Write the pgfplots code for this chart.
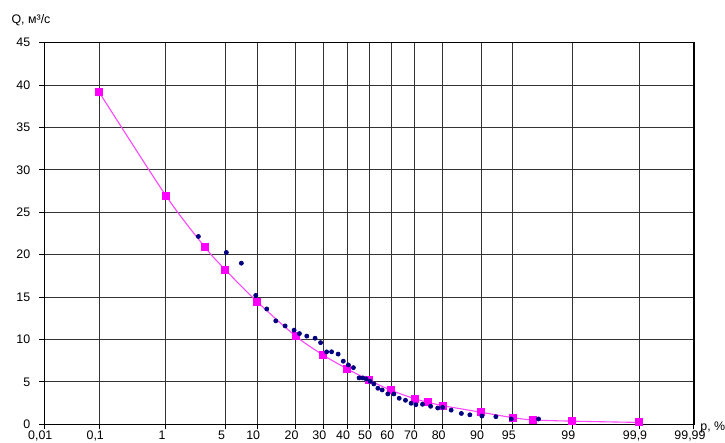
\documentclass[border=0pt]{standalone}
\usepackage{fontspec}
\setmainfont{Liberation Sans}
\usepackage{pgfplots}
\pgfplotsset{compat=1.18}
\definecolor{pinkline}{RGB}{255,70,255}
\definecolor{magsq}{RGB}{255,0,255}
\definecolor{navydot}{RGB}{0,0,128}
\begin{document}
\begin{tikzpicture}
\begin{axis}[
  at={(0,0)}, anchor=south west,
  scale only axis,
  width=324.85pt, height=190.8pt,
  xmin=-3.719, xmax=3.719,
  ymin=0, ymax=45,
  xtick={-3.719,-3.090,-2.326,-1.645,-1.2816,-0.8416,-0.5244,-0.2533,0,0.2533,0.5244,0.8416,1.2816,1.645,2.326,3.090,3.719},
  xticklabels={0{,}01,0{,}1,1,5,10,20,30,40,50,60,70,\raisebox{-1.5pt}{80},90,95,99,99{,}9,99{,}99},
  ytick={0,5,10,15,20,25,30,35,40,45},
  xmajorgrids, ymajorgrids,
  grid style={black!80, line width=0.5pt},
  axis line style={black, line width=0.6pt},
  tick align=outside, tick pos=left,
  major tick length=2.5pt,
  major tick style={black, line width=0.5pt},
  /pgf/number format/assume math mode=true,
  tick label style={font=\fontsize{6.2}{7}\selectfont},
  xticklabel style={xshift=-2pt, yshift=2.8pt},
  yticklabel style={xshift=-1pt},
]
\addplot[color=pinkline, line width=0.55pt, smooth, tension=0.5,
  mark=square*, mark size=1.75pt, mark options={fill=magsq, draw=magsq, line width=0pt}]
coordinates {
(-3.090,39.15) (-2.326,26.95) (-1.881,20.9) (-1.645,18.2) (-1.2816,14.45)
(-0.8416,10.4) (-0.5244,8.15) (-0.2533,6.55) (0,5.2) (0.2533,4.0)
(0.5244,3.0) (0.6745,2.6) (0.8416,2.2) (1.2816,1.42) (1.645,0.78)
(1.881,0.51) (2.326,0.37) (3.090,0.22)
};
\addplot[only marks, mark=*, mark size=1pt, color=navydot, mark options={fill=navydot}]
coordinates {
(-1.955,22.15) (-1.635,20.26) (-1.463,19.0) (-1.298,15.2) (-1.172,13.6)
(-1.069,12.2) (-0.962,11.6) (-0.859,11.1) (-0.798,10.7) (-0.714,10.4)
(-0.619,10.15) (-0.556,9.63) (-0.487,8.54) (-0.430,8.55) (-0.355,8.28)
(-0.296,7.44) (-0.238,7.0) (-0.180,6.68) (-0.115,5.47) (-0.072,5.47)
(-0.034,5.35) (0.011,5.07) (0.054,4.76) (0.100,4.25) (0.149,4.05)
(0.214,3.58) (0.283,3.58) (0.344,3.07) (0.416,2.83) (0.481,2.48)
(0.535,2.31) (0.611,2.36) (0.704,2.12) (0.785,1.92) (0.842,2.0)
(0.939,1.67) (1.056,1.28) (1.153,1.12) (1.291,0.98) (1.451,0.9)
(1.627,0.63) (1.939,0.63)
};
\end{axis}
\node[anchor=center, font=\fontsize{6.2}{7}\selectfont, inner sep=0pt] at (-6.65pt,202.15pt) {Q, м³/с};
\node[anchor=west, font=\fontsize{6.2}{7}\selectfont, inner sep=0pt] at (327.85pt,-1.35pt) {p, \%};
\pgfresetboundingbox
\useasboundingbox (-22.15pt,-9.35pt) rectangle (340.35pt,212.15pt);
\end{tikzpicture}
\end{document}
